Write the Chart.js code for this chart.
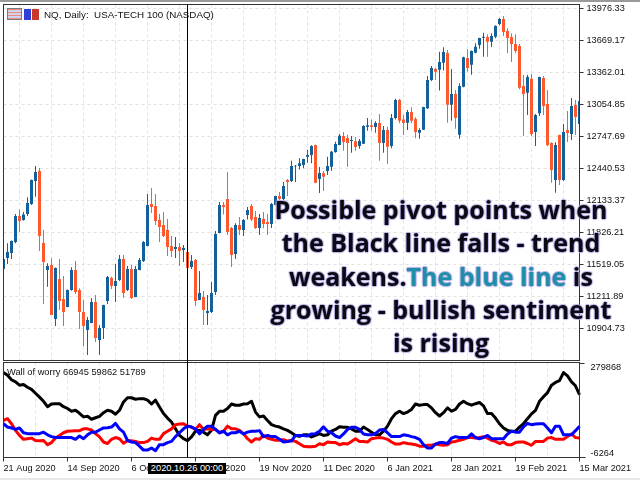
<!DOCTYPE html>
<html>
<head>
<meta charset="utf-8">
<title>NQ, Daily</title>
<script src="https://cdn.jsdelivr.net/npm/chart.js@4/dist/chart.umd.min.js"></script>
<style>
  html, body { margin: 0; padding: 0; background: #fff; }
  #wrap { position: relative; width: 640px; height: 480px; overflow: hidden; font-family: "Liberation Sans", sans-serif; }
  canvas { position: absolute; left: 0; }
  #price { top: 0; }
  #worry { top: 361px; }
  #topbar { position: absolute; left: 0; top: 0; width: 640px; height: 2px; background: #9a9a9a; }
  #bottombar { position: absolute; left: 0; top: 478px; width: 640px; height: 2px; background: #e8e8e8; }
  .label { position: absolute; font-size: 9.3px; line-height: 12px; color: #111; white-space: pre; }
  #title { left: 44px; top: 9px; font-size: 9.8px; }
  #worryTitle { left: 7px; top: 366px; }
  .icon { position: absolute; top: 8px; height: 12px; box-sizing: border-box; }
  #icon1 { left: 7px; width: 15px; border: 1px solid #7a7a8c; background: repeating-linear-gradient(#f08a70 0 1px, #cfd4f4 1px 3px); }
  #icon2 { left: 24px; width: 7px; top: 9px; height: 11px; background: #2f3fd8; }
  #icon3 { left: 32px; width: 7px; top: 9px; height: 11px; background: #c8382c; }
  #dateBox { position: absolute; left: 148px; top: 463px; width: 78px; height: 11px; line-height: 11px; background: #000; color: #fff; font-size: 9.3px; text-align: center; white-space: pre; }
  #note { position: absolute; left: 261px; top: 193px; width: 360px; text-align: center; font-family: "Open Sans", sans-serif; font-weight: 700; font-size: 25px; line-height: 33.3px; color: #0a0a14;
          text-shadow: 1px 0 1px #b8aee6, -1px 0 1px #b8aee6, 0 1px 1px #b8aee6, 0 -1px 1px #b8aee6; }
  #note span { color: #1f8ea8; }
</style>
</head>
<body>
<div id="wrap">
  <canvas id="price" width="640" height="361"></canvas>
  <canvas id="worry" width="640" height="119"></canvas>
  <div id="topbar"></div>
  <div id="bottombar"></div>
  <div class="icon" id="icon1"></div>
  <div class="icon" id="icon2"></div>
  <div class="icon" id="icon3"></div>
  <div class="label" id="title">NQ, Daily:  USA-TECH 100 (NASDAQ)</div>
  <div class="label" id="worryTitle">Wall of worry 66945 59862 51789</div>
  <div id="dateBox">2020.10.26 00:00</div>
  <div id="note">Possible pivot points when<br>the Black line falls - trend<br>weakens.<span>The blue line</span> is<br>growing - bullish sentiment<br>is rising</div>
</div>
<script>
const opens = [
  11476,11581,11629,11735,11984,11946,12004,12100,12320,12416,
  11725,11466,11514,10996,11380,11188,11111,11274,11466,11274,
  11063,10890,10957,11159,10794,10909,11168,11389,11312,11370,
  11572,11274,11476,11207,11466,11552,11696,12100,12080,11946,
  11898,11850,11696,11668,11687,11658,11639,11495,11562,11178,
  11207,11053,11063,11255,11821,12090,12148,11869,11620,11898,
  11850,11994,12080,11975,11869,11956,11927,11908,12090,12176,
  12148,12330,12320,12461,12464,12474,12554,12570,12666,12340,
  12394,12416,12458,12599,12666,12752,12733,12704,12701,12656,
  12679,12842,12855,12839,12877,12685,12810,12656,12925,13098,
  12912,12880,12983,12916,12784,12813,13018,13290,13396,13389,
  13456,13549,13053,13156,12765,13226,13501,13437,13552,13626,
  13696,13703,13658,13706,13828,13876,13760,13703,13636,13616,
  13232,13168,13303,12791,12970,13309,13060,12685,12330,12762,
  12330,12810,12772,13050,12868];
const closes = [
  11572,11639,11744,11984,11936,12000,12109,12330,12407,11792,
  11543,11504,11034,11485,11168,11063,11274,11466,11255,11063,
  10928,10986,11159,10813,10909,11130,11399,11312,11360,11572,
  11245,11476,11197,11476,11562,11735,12090,12071,11936,11879,
  11792,11687,11648,11687,11648,11677,11485,11552,11168,11245,
  11082,11072,11245,11812,12090,12071,11831,11610,11898,11850,
  11946,12042,11952,11869,11965,11908,11908,12100,12176,12148,
  12272,12311,12464,12468,12490,12532,12570,12656,12304,12397,
  12362,12464,12602,12676,12756,12695,12685,12714,12647,12704,
  12848,12855,12839,12877,12685,12810,12650,12925,13098,12900,
  12877,12983,12900,12791,12810,13031,13290,13405,13370,13463,
  13559,13053,13156,12925,13232,13508,13405,13568,13610,13693,
  13706,13658,13712,13808,13876,13751,13693,13636,13568,13216,
  13156,13319,12772,12954,13319,13040,12663,12426,12666,12330,
  12791,12781,13040,12935,13088];
const highs = [
  11610,11722,11750,12004,12048,12023,12164,12336,12464,12445,
  11850,11530,11578,11490,11572,11408,11278,11492,11552,11290,
  11178,11015,11197,11226,10938,11132,11408,11402,11524,11610,
  11610,11504,11514,11504,11581,11744,12196,12253,12196,12004,
  12023,11956,11792,11783,11725,11706,11642,11610,11572,11456,
  11264,11226,11351,11840,12119,12119,12407,11879,11914,11975,
  11956,12071,12100,12032,12004,12023,12004,12109,12180,12215,
  12311,12340,12516,12474,12538,12535,12618,12663,12672,12455,
  12416,12554,12608,12698,12772,12791,12765,12752,12743,12724,
  12855,12925,12912,12893,12964,12848,12842,12964,13111,13108,
  12954,13002,13028,12932,12826,13034,13328,13424,13408,13562,
  13604,13578,13396,13194,13258,13514,13584,13572,13642,13696,
  13744,13728,13738,13815,13885,13904,13789,13738,13728,13636,
  13338,13341,13348,12964,13322,13328,13194,12692,12692,12765,
  12868,12992,13117,13098,13098];
const lows = [
  11460,11524,11572,11722,11831,11940,11984,12090,12170,11648,
  11140,11306,11031,10928,11082,10928,11108,11268,11236,10900,
  10736,10650,10954,10775,10650,10804,11140,11284,11159,11360,
  11197,11264,11188,11204,11464,11543,11694,12013,11898,11735,
  11783,11600,11591,11581,11504,11543,11482,11476,11120,11176,
  10938,10938,11053,11226,11818,12000,11802,11495,11572,11802,
  11792,11950,11936,11860,11802,11866,11802,11869,12088,12106,
  12138,12176,12311,12311,12432,12442,12496,12490,12300,12205,
  12224,12378,12420,12592,12663,12612,12458,12592,12612,12631,
  12676,12804,12804,12784,12516,12592,12484,12634,12912,12874,
  12762,12810,12874,12730,12727,12810,13012,13280,13290,13188,
  13380,12880,12900,12823,12727,13220,13370,13341,13546,13591,
  13514,13514,13607,13690,13815,13712,13546,13463,13546,13200,
  12752,12954,12752,12656,12944,12954,12656,12304,12208,12282,
  12320,12695,12714,12762,12865];

// wall of worry lines, in thousands
const blackLine = [
  264,255,240,233,222,224,215,208,195,182,
  168,150,159,160,160,150,144,135,138,128,
  116,118,108,113,118,130,138,135,125,138,
  166,180,180,175,177,177,172,159,172,149,
  127,112,99,76,54,43,37,49,68,71,
  65,56,71,121,135,135,144,159,155,155,
  159,160,168,132,116,119,104,90,85,82,
  76,71,63,54,51,56,56,49,54,60,
  54,56,68,74,83,81,81,76,68,68,
  82,74,65,56,56,68,85,110,127,135,
  127,132,141,159,155,157,157,146,130,119,
  130,146,135,141,159,168,160,155,160,164,
  153,127,127,112,93,79,71,68,68,82,
  93,110,126,138,168,183,197,222,231,237,
  264,253,233,220,190];
const redLine = [
  104,110,93,71,54,41,43,45,37,36,
  37,23,30,45,54,63,68,69,70,70,
  76,76,72,60,49,32,27,41,47,43,
  28,36,36,34,30,30,34,45,41,41,
  60,68,76,90,92,93,85,82,74,90,
  74,76,74,74,63,68,85,76,76,71,
  60,43,32,43,41,54,45,41,38,38,
  40,35,37,34,26,18,16,16,18,26,
  23,32,30,30,23,27,25,34,43,34,
  34,32,43,45,47,45,41,32,25,25,
  30,27,25,23,18,18,21,21,25,23,
  21,23,32,34,38,41,47,47,45,47,
  50,45,38,34,27,32,23,23,30,32,
  32,27,21,34,34,34,45,47,41,41,
  41,50,59,47,45];
const blueLine = [
  93,82,79,74,79,63,60,60,60,60,
  65,56,50,47,47,47,47,47,41,52,
  43,56,65,65,72,79,80,82,94,76,
  65,37,32,30,18,5,5,12,3,23,
  23,30,34,50,63,76,85,82,76,59,
  74,85,85,74,63,68,56,63,63,68,
  59,65,68,68,70,50,54,50,50,41,
  32,34,36,54,54,54,52,59,60,68,
  83,68,63,52,47,59,74,81,81,74,
  59,56,56,61,72,74,63,50,50,50,
  56,54,50,47,41,23,12,12,25,30,
  30,27,45,50,47,47,47,59,47,43,
  47,54,43,43,43,43,59,68,65,65,
  83,94,90,92,93,93,79,63,85,85,
  56,56,56,70,85];

const priceTicks = [13976.33, 13669.17, 13362.01, 13054.85, 12747.69, 12440.53, 12133.37, 11826.21, 11519.05, 11211.89, 10904.73];
const worryTicks = [279.868, -6.264];
const dateLabels = ['21 Aug 2020', '14 Sep 2020', '6 Oct 2020', '28 Oct 2020', '19 Nov 2020', '11 Dec 2020', '6 Jan 2021', '28 Jan 2021', '19 Feb 2021', '15 Mar 2021'];
const cursorBar = 46;

const BLUE = '#13609a', ORANGE = '#ff5a2e', GRID = '#e2e2e2', FRAME = '#333333';
const FONT = { family: '"Liberation Sans", sans-serif', size: 9.2 };

Chart.defaults.animation = false;
Chart.defaults.devicePixelRatio = 1;

const bars = opens.map((_, i) => i);
const barColors = opens.map((o, i) => closes[i] >= o ? BLUE : ORANGE);

// chart area has to stay put, labels near the edges must not push it in
function noPadding(s) {
  s.paddingTop = s.paddingBottom = s.paddingLeft = s.paddingRight = 0;
}

const frame = {
  id: 'frame',
  afterDraw(chart) {
    const { ctx, chartArea: a, scales } = chart;
    ctx.save();
    ctx.strokeStyle = FRAME;
    ctx.lineWidth = 1;
    ctx.strokeRect(a.left, a.top, a.right - a.left, a.bottom - a.top);
    if (chart.canvas.id === 'worry') {
      ctx.beginPath();
      ctx.moveTo(a.right, a.top + 1); ctx.lineTo(a.right + 5, a.top + 1);
      ctx.moveTo(a.right, a.bottom); ctx.lineTo(a.right + 6, a.bottom);
      ctx.stroke();
    }
    const x = scales.x.getPixelForValue(cursorBar);
    ctx.strokeStyle = '#000';
    ctx.beginPath();
    ctx.moveTo(x, chart.canvas.id === 'worry' ? 0 : a.top);
    ctx.lineTo(x, chart.canvas.id === 'worry' ? a.bottom : chart.height);
    ctx.stroke();
    ctx.restore();
  }
};

function xAxis(showLabels) {
  return {
    offset: false,
    afterBuildTicks: s => { s.ticks = s.ticks.filter(t => t.value % 8 === 0); },
    afterFit: s => { s.height = showLabels ? 22.5 : 0; noPadding(s); },
    border: { display: false, dash: [3, 3] },
    grid: {
      color: GRID,
      drawTicks: showLabels,
      tickLength: 4,
      tickBorderDash: [],
      tickColor: c => c.tick && c.tick.value % 16 === 0 ? FRAME : 'rgba(0,0,0,0)'
    },
    ticks: {
      display: showLabels,
      autoSkip: false,
      maxRotation: 0,
      align: 'start',
      padding: 1,
      color: '#111',
      font: FONT,
      callback: v => v % 16 === 0 ? dateLabels[v / 16] : ''
    }
  };
}

new Chart(document.getElementById('price'), {
  type: 'bar',
  data: {
    labels: bars,
    datasets: [
      { data: opens.map((o, i) => [lows[i], highs[i]]), backgroundColor: barColors, barThickness: 1, grouped: false, inflateAmount: 0, borderWidth: 0, order: 2 },
      { data: opens.map((o, i) => [Math.min(o, closes[i]), Math.max(o, closes[i])]), backgroundColor: barColors, barThickness: 3, grouped: false, inflateAmount: 0, borderWidth: 0, order: 1 }
    ]
  },
  options: {
    responsive: false,
    layout: { padding: { left: 3.5, top: 4.5, right: 0, bottom: 0.5 } },
    plugins: { legend: { display: false }, tooltip: { enabled: false } },
    scales: {
      x: xAxis(false),
      y: {
        position: 'right',
        min: 10597.5,
        max: 14014.7,
        afterBuildTicks: s => { s.ticks = priceTicks.map(v => ({ value: v })); },
        afterFit: s => { s.width = 60.5; noPadding(s); },
        border: { display: false, dash: [3, 3] },
        grid: { color: GRID, tickLength: 4, tickColor: FRAME, tickBorderDash: [] },
        ticks: { padding: 3, color: '#111', font: FONT, callback: v => v.toFixed(2) }
      }
    }
  },
  plugins: [frame]
});

new Chart(document.getElementById('worry'), {
  type: 'line',
  data: {
    labels: bars,
    datasets: [
      { data: blueLine, borderColor: '#0000ff', order: 1 },
      { data: redLine, borderColor: '#ff0000', order: 2 },
      { data: blackLine, borderColor: '#000000', order: 3 }
    ]
  },
  options: {
    responsive: false,
    layout: { padding: { left: 3.5, top: 1.5, right: 0, bottom: 0 } },
    elements: { point: { radius: 0 }, line: { borderWidth: 3, tension: 0, borderJoinStyle: 'round' } },
    plugins: { legend: { display: false }, tooltip: { enabled: false } },
    scales: {
      x: xAxis(true),
      y: {
        position: 'right',
        min: -19.8,
        max: 297.8,
        afterBuildTicks: s => { s.ticks = worryTicks.map(v => ({ value: v })); },
        afterFit: s => { s.width = 60.5; noPadding(s); },
        border: { display: false },
        grid: { display: false, tickLength: 4 },
        ticks: { padding: 7, color: '#111', font: FONT, callback: v => String(Math.round(v * 1000)) }
      }
    }
  },
  plugins: [frame]
});
</script>
</body>
</html>
